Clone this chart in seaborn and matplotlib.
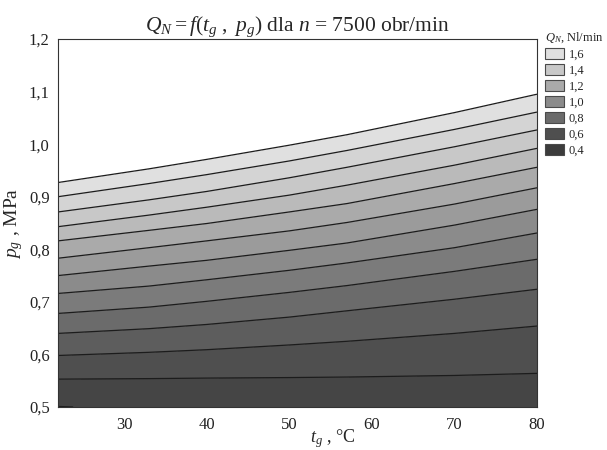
import numpy as np
import matplotlib
matplotlib.use("Agg")
import matplotlib.pyplot as plt
import seaborn as sns
from matplotlib.patches import Patch

# --- Data ---
# temperatures (columns) where the contour lines were read
t_cols = [22, 33, 40, 50, 57, 70, 80]

# pressure p_g [MPa] of each Q_N contour line at the temperatures above
p_q05 = [0.553, 0.554, 0.555, 0.556, 0.557, 0.560, 0.564]
p_q06 = [0.598, 0.604, 0.609, 0.618, 0.625, 0.640, 0.654]
p_q07 = [0.640, 0.649, 0.657, 0.671, 0.683, 0.705, 0.724]
p_q08 = [0.678, 0.690, 0.701, 0.718, 0.731, 0.758, 0.781]
p_q09 = [0.716, 0.730, 0.742, 0.760, 0.774, 0.803, 0.831]
p_q10 = [0.750, 0.768, 0.779, 0.798, 0.812, 0.846, 0.876]
p_q11 = [0.783, 0.803, 0.816, 0.835, 0.851, 0.886, 0.917]
p_q12 = [0.816, 0.836, 0.849, 0.871, 0.887, 0.925, 0.956]
p_q13 = [0.843, 0.865, 0.880, 0.903, 0.922, 0.960, 0.992]
p_q14 = [0.871, 0.894, 0.910, 0.936, 0.956, 0.995, 1.027]
p_q15 = [0.900, 0.925, 0.942, 0.968, 0.988, 1.028, 1.061]
p_q16 = [0.927, 0.953, 0.971, 0.998, 1.018, 1.060, 1.095]
line_q = [0.5, 0.6, 0.7, 0.8, 0.9, 1.0, 1.1, 1.2, 1.3, 1.4, 1.5, 1.6]

# edges of the plot area (estimated Q_N there)
p_bottom = [0.5, 0.5, 0.5, 0.5, 0.5, 0.5, 0.5]
q_bottom = [0.398, 0.410, 0.415, 0.420, 0.425, 0.430, 0.435]
p_top = [1.2, 1.2, 1.2, 1.2, 1.2, 1.2, 1.2]
q_top = [2.0, 2.0, 2.0, 2.0, 2.0, 2.0, 2.0]

# contour levels and legend
q_levels = [0.4, 0.5, 0.6, 0.7, 0.8, 0.9, 1.0, 1.1, 1.2, 1.3, 1.4, 1.5, 1.6]
legend_vals = ["1,6", "1,4", "1,2", "1,0", "0,8", "0,6", "0,4"]
legend_cols = ["#e0e0e0", "#c8c8c8", "#aaaaaa", "#8b8b8b", "#6b6b6b", "#4f4f4f", "#3c3c3c"]

x_ticks = [30, 40, 50, 60, 70, 80]
y_ticks = [0.5, 0.6, 0.7, 0.8, 0.9, 1.0, 1.1, 1.2]
y_labels = ["0,5", "0,6", "0,7", "0,8", "0,9", "1,0", "1,1", "1,2"]

# --- Style ---
sns.set_style("ticks")
plt.rcParams["font.family"] = ["Liberation Serif", "DejaVu Serif"]
plt.rcParams["mathtext.fontset"] = "custom"
plt.rcParams["mathtext.rm"] = "Liberation Serif"
plt.rcParams["mathtext.it"] = "Liberation Serif:italic"

# curvilinear grid: one row per contour line
rows_p = [p_bottom, p_q05, p_q06, p_q07, p_q08, p_q09, p_q10, p_q11,
          p_q12, p_q13, p_q14, p_q15, p_q16, p_top]
rows_q = [q_bottom] + [[q] * len(t_cols) for q in line_q] + [q_top]
P = np.array(rows_p)
Q = np.array(rows_q)
T = np.tile(np.array(t_cols, dtype=float), (len(rows_p), 1))

# band colours: dark to light, white above the top level
band_cols = sns.blend_palette(legend_cols[::-1], n_colors=13)
fill_levels = [0.3] + q_levels + [2.5]
fill_cols = list(band_cols) + ["white"]

fig = plt.figure(figsize=(6.07, 4.5), dpi=100)
ax = fig.add_axes([58 / 607, 1 - 407 / 450, 479 / 607, 368 / 450])

ax.contourf(T, P, Q, levels=fill_levels, colors=fill_cols)
ax.contour(T, P, Q, levels=q_levels, colors="#1c1c1c", linewidths=0.9)

ax.set_xlim(22, 80)
ax.set_ylim(0.5, 1.2)
ax.set_xticks(x_ticks)
ax.set_xticklabels([str(v) for v in x_ticks])
ax.set_yticks(y_ticks)
ax.set_yticklabels(y_labels)
ax.tick_params(direction="in", length=3, width=0.6, labelsize=12, colors="#222222")
ax.tick_params(axis="x", pad=7)
ax.tick_params(axis="y", pad=6)
for s in ax.spines.values():
    s.set_linewidth(0.8)
    s.set_color("#333333")

ax.set_title(r"$Q_N = f(t_g\ ,\ p_g)$ dla $n$ = 7500 obr/min", fontsize=15.5, pad=6)
ax.set_xlabel(r"$t_g$ , °C", fontsize=13, labelpad=0)
ax.xaxis.set_label_coords(0.574, -0.055)
ax.set_ylabel(r"$p_g$ , MPa", fontsize=14, labelpad=3)

handles = [Patch(facecolor=c, edgecolor="#4a4a4a", linewidth=0.8) for c in legend_cols]
leg = ax.legend(handles, legend_vals, title=r"$Q_N$, Nl/min", loc="upper left",
                bbox_to_anchor=(545 / 607, 1 - 30 / 450), bbox_transform=fig.transFigure,
                frameon=False, fontsize=9, title_fontsize=9, handlelength=1.5,
                handleheight=0.95, labelspacing=0.27, handletextpad=0.4,
                borderaxespad=0, borderpad=0, alignment="left")

fig.savefig("out.png", dpi=100)
